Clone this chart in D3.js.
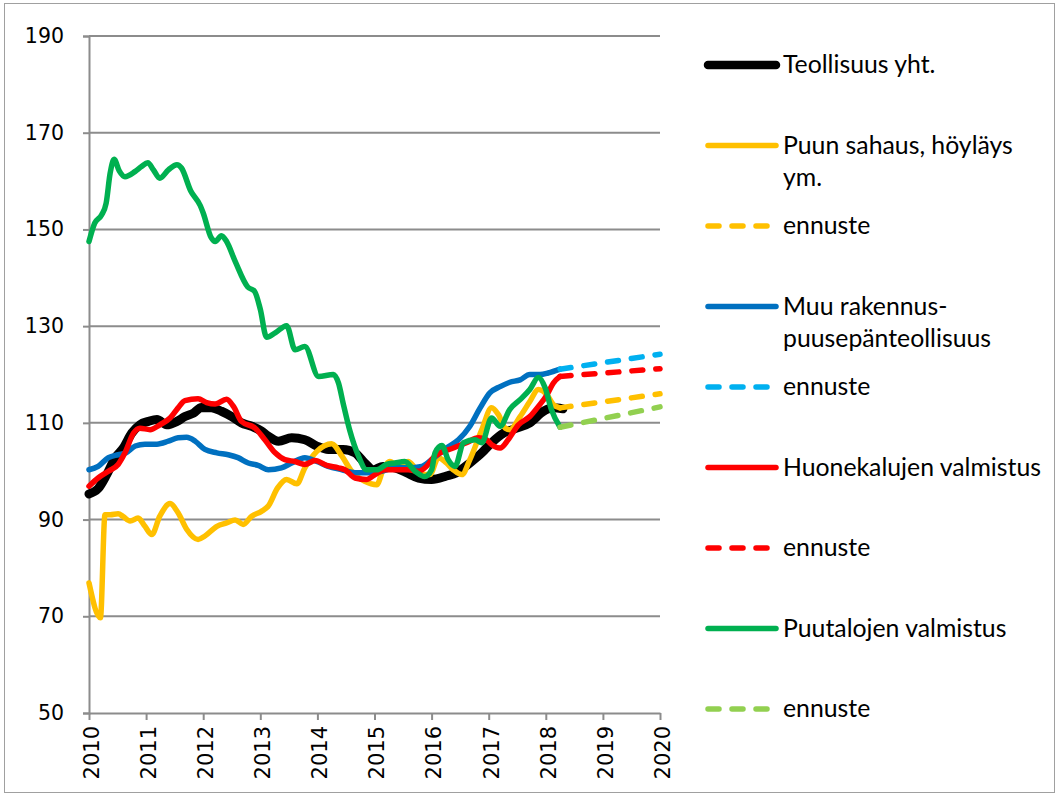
<!DOCTYPE html>
<html><head><meta charset="utf-8">
<script src="https://cdn.jsdelivr.net/npm/d3@7"></script>
<style>html,body{margin:0;padding:0;background:#fff;}svg{display:block;}</style>
</head><body>
<svg id="chart" width="1058" height="796"></svg>
<script>
// ---- data (year as decimal, index value) ----
const yTicks = [50, 70, 90, 110, 130, 150, 170, 190];
const xTicks = [2010, 2011, 2012, 2013, 2014, 2015, 2016, 2017, 2018, 2019, 2020];

const teollisuus = [[2010.0,95.3],[2010.16,96.4],[2010.31,99.3],[2010.46,102.8],[2010.6,104.8],[2010.75,107.9],[2010.89,109.6],[2011.04,110.3],[2011.19,110.7],[2011.36,109.6],[2011.54,110.3],[2011.68,111.3],[2011.83,112.0],[2011.97,113.2],[2012.15,113.1],[2012.32,112.4],[2012.5,111.3],[2012.67,110.0],[2012.85,109.3],[2013.02,108.3],[2013.12,107.4],[2013.32,106.2],[2013.55,106.9],[2013.78,106.5],[2013.99,105.2],[2014.19,104.5],[2014.45,104.5],[2014.66,103.8],[2014.83,101.7],[2014.98,100.3],[2015.15,101.0],[2015.36,100.7],[2015.56,99.7],[2015.77,98.6],[2016.0,98.3],[2016.26,99.0],[2016.44,99.7],[2016.67,101.7],[2016.88,103.8],[2017.05,105.9],[2017.26,107.9],[2017.49,108.9],[2017.72,110.0],[2017.96,112.4],[2018.13,113.1],[2018.3,112.9]];

const sahaus = [[2010.0,76.9],[2010.2,69.7],[2010.28,91.0],[2010.37,91.0],[2010.51,91.2],[2010.6,90.6],[2010.72,89.7],[2010.86,90.3],[2010.98,88.6],[2011.1,86.9],[2011.24,90.7],[2011.42,93.3],[2011.56,91.4],[2011.71,88.0],[2011.91,85.9],[2012.03,86.6],[2012.24,88.6],[2012.41,89.3],[2012.56,89.9],[2012.7,89.0],[2012.85,90.7],[2013.02,91.7],[2013.14,92.8],[2013.3,96.5],[2013.46,98.3],[2013.64,97.4],[2013.78,100.7],[2013.99,104.1],[2014.25,105.7],[2014.43,103.1],[2014.6,100.0],[2014.83,97.9],[2015.04,97.2],[2015.15,100.3],[2015.27,102.0],[2015.39,101.4],[2015.59,102.0],[2015.71,100.7],[2015.88,99.3],[2015.97,99.3],[2016.12,102.8],[2016.26,101.7],[2016.38,100.3],[2016.53,99.3],[2016.67,102.4],[2016.88,108.6],[2017.05,113.1],[2017.17,111.7],[2017.29,108.9],[2017.37,108.6],[2017.55,111.3],[2017.72,114.4],[2017.87,116.9],[2018.02,115.8],[2018.13,113.8],[2018.25,113.1]];
const sahausEnnuste = [[2018.25,113.1],[2020.0,116.0]];

const rakennus = [[2010.0,100.3],[2010.16,101.0],[2010.34,102.8],[2010.51,103.4],[2010.65,103.8],[2010.81,105.2],[2010.98,105.6],[2011.19,105.6],[2011.39,106.2],[2011.56,106.9],[2011.71,107.0],[2011.86,106.2],[2012.03,104.5],[2012.24,103.8],[2012.44,103.4],[2012.61,102.8],[2012.79,101.7],[2012.96,101.2],[2013.14,100.3],[2013.37,100.7],[2013.55,101.7],[2013.78,102.8],[2013.99,102.0],[2014.19,101.0],[2014.43,100.3],[2014.66,99.7],[2014.89,99.7],[2015.13,100.0],[2015.36,100.7],[2015.59,100.7],[2015.83,101.0],[2016.0,102.4],[2016.26,104.8],[2016.47,106.5],[2016.67,109.3],[2016.85,113.1],[2017.02,116.2],[2017.2,117.5],[2017.37,118.4],[2017.55,118.9],[2017.72,120.0],[2017.9,120.0],[2018.04,120.3],[2018.25,121.1]];
const rakennusEnnuste = [[2018.25,121.1],[2020.0,124.2]];

const huonekalut = [[2010.0,96.9],[2010.16,98.6],[2010.34,100.0],[2010.51,101.4],[2010.63,103.8],[2010.78,107.9],[2010.89,108.9],[2011.07,108.6],[2011.24,109.6],[2011.42,111.0],[2011.56,113.1],[2011.68,114.6],[2011.91,115.0],[2012.06,114.2],[2012.21,113.9],[2012.41,114.9],[2012.53,113.4],[2012.67,110.3],[2012.91,108.9],[2013.08,106.5],[2013.26,103.8],[2013.43,102.4],[2013.61,102.0],[2013.78,101.4],[2013.96,102.2],[2014.16,101.2],[2014.37,100.7],[2014.48,100.3],[2014.66,98.6],[2014.86,98.3],[2015.01,99.3],[2015.18,100.3],[2015.42,100.3],[2015.59,100.3],[2015.77,100.0],[2015.91,101.0],[2016.03,102.8],[2016.15,103.8],[2016.38,104.8],[2016.61,105.9],[2016.82,106.9],[2016.96,106.5],[2017.05,105.5],[2017.2,104.8],[2017.34,106.5],[2017.52,109.6],[2017.72,111.3],[2017.87,113.4],[2018.02,115.8],[2018.13,118.2],[2018.25,119.6]];
const huonekalutEnnuste = [[2018.25,119.6],[2020.0,121.2]];

const puutalot = [[2010.0,147.5],[2010.1,151.3],[2010.22,153.0],[2010.3,155.4],[2010.37,161.6],[2010.44,164.5],[2010.53,162.1],[2010.63,160.9],[2010.81,162.0],[2010.92,163.0],[2011.03,163.8],[2011.13,162.3],[2011.24,160.6],[2011.39,162.3],[2011.54,163.4],[2011.62,162.7],[2011.78,158.0],[2011.95,154.9],[2012.0,153.4],[2012.14,148.3],[2012.21,147.5],[2012.32,148.7],[2012.41,147.5],[2012.56,143.4],[2012.78,138.1],[2012.9,137.2],[2013.0,133.5],[2013.11,127.7],[2013.26,128.6],[2013.46,130.1],[2013.61,125.1],[2013.78,125.8],[2014.02,119.6],[2014.28,120.0],[2014.37,118.2],[2014.45,114.1],[2014.57,108.3],[2014.72,103.1],[2014.86,100.3],[2015.04,100.3],[2015.21,101.4],[2015.36,101.7],[2015.53,102.0],[2015.71,100.0],[2015.88,98.9],[2016.0,100.3],[2016.06,103.8],[2016.18,105.3],[2016.29,102.4],[2016.41,101.0],[2016.56,105.9],[2016.76,106.5],[2016.88,105.9],[2017.05,111.0],[2017.2,109.3],[2017.37,112.8],[2017.55,114.8],[2017.72,116.9],[2017.87,119.4],[2017.99,117.2],[2018.1,112.7],[2018.25,109.1]];
const puutalotEnnuste = [[2018.25,109.1],[2020.0,113.3]];

const legendItems = [
  {label:["Teollisuus yht."], color:"#000000", dash:false, w:8.5},
  {label:["Puun sahaus, höyläys","ym."], color:"#FFC000", dash:false, w:5.5},
  {label:["ennuste"], color:"#FFC000", dash:true, w:5.5},
  {label:["Muu rakennus-","puusepänteollisuus"], color:"#0070C0", dash:false, w:5.5},
  {label:["ennuste"], color:"#00B0F0", dash:true, w:5.5},
  {label:["Huonekalujen valmistus"], color:"#FF0000", dash:false, w:5.5},
  {label:["ennuste"], color:"#FF0000", dash:true, w:5.5},
  {label:["Puutalojen valmistus"], color:"#00B050", dash:false, w:5.5},
  {label:["ennuste"], color:"#92D050", dash:true, w:5.5}
];

const series = [
  {data:teollisuus, color:"#000000", dash:false, w:9},
  {data:sahaus, color:"#FFC000", dash:false, w:5.5},
  {data:sahausEnnuste, color:"#FFC000", dash:true, w:5.5},
  {data:rakennus, color:"#0070C0", dash:false, w:5.5},
  {data:rakennusEnnuste, color:"#00B0F0", dash:true, w:5.5},
  {data:huonekalut, color:"#FF0000", dash:false, w:5.5},
  {data:huonekalutEnnuste, color:"#FF0000", dash:true, w:5.5},
  {data:puutalot, color:"#00B050", dash:false, w:5.5},
  {data:puutalotEnnuste, color:"#92D050", dash:true, w:5.5}
];

// ---- drawing ----
const svg = d3.select("#chart");
const gridColor = "#8c8c8c";

svg.append("rect").attr("x",4.5).attr("y",3.5).attr("width",1050).attr("height",789)
  .attr("fill","none").attr("stroke","#a0a0a0").attr("stroke-width",1);

const x = d3.scaleLinear().domain([2010,2020]).range([89,660]);
const y = d3.scaleLinear().domain([50,190]).range([713,36]);

// gridlines
svg.append("g").selectAll("line").data(yTicks.filter(d=>d>50)).join("line")
  .attr("x1",89).attr("x2",660).attr("y1",d=>y(d)).attr("y2",d=>y(d))
  .attr("stroke",gridColor).attr("stroke-width",2);

// y axis
const yAxis = svg.append("g").attr("transform","translate(89,0)")
  .call(d3.axisLeft(y).tickValues(yTicks).tickSize(6).tickPadding(19).tickFormat(d3.format("d")));
yAxis.select(".domain").attr("stroke",gridColor).attr("stroke-width",2);
yAxis.selectAll(".tick line").attr("stroke",gridColor).attr("stroke-width",2);
yAxis.selectAll(".tick text").attr("font-family","DejaVu Sans").attr("font-size",20.5).attr("fill","#000");

// x axis
const xAxis = svg.append("g").attr("transform","translate(0,713)")
  .call(d3.axisBottom(x).tickValues(xTicks).tickSize(7).tickSizeOuter(0).tickFormat(d3.format("d")));
xAxis.select(".domain").attr("stroke",gridColor).attr("stroke-width",2);
xAxis.selectAll(".tick line").attr("stroke",gridColor).attr("stroke-width",2);
xAxis.selectAll(".tick text")
  .attr("font-family","DejaVu Sans").attr("font-size",21).attr("fill","#000")
  .attr("transform","rotate(-90)").attr("text-anchor","end")
  .attr("x",-13).attr("y",2).attr("dy","0.35em");

// lines
const line = d3.line().x(d=>x(d[0])).y(d=>y(d[1])).curve(d3.curveMonotoneX);
svg.append("g").selectAll("path").data(series).join("path")
  .attr("d",d=>line(d.data))
  .attr("fill","none")
  .attr("stroke",d=>d.color)
  .attr("stroke-width",d=>d.w)
  .attr("stroke-linejoin","round")
  .attr("stroke-linecap","round")
  .attr("stroke-dasharray",d=>d.dash?"11,13":null);

// legend
const lg = svg.append("g");
const rowY = i => 65 + i*80.5;
legendItems.forEach((it,i)=>{
  const yy = rowY(i);
  lg.append("line").attr("x1",708).attr("x2",it.dash?770:776)
    .attr("y1",yy).attr("y2",yy)
    .attr("stroke",it.color).attr("stroke-width",it.w)
    .attr("stroke-linecap","round")
    .attr("stroke-dasharray",it.dash?"11,13":null);
  const t = lg.append("text").attr("x",783).attr("y",yy+8)
    .attr("font-family","Lato").attr("font-size",24.8).attr("fill","#000");
  it.label.forEach((s,j)=>{
    t.append("tspan").attr("x",783).attr("dy",j===0?0:32).text(s);
  });
});
</script>
</body></html>
